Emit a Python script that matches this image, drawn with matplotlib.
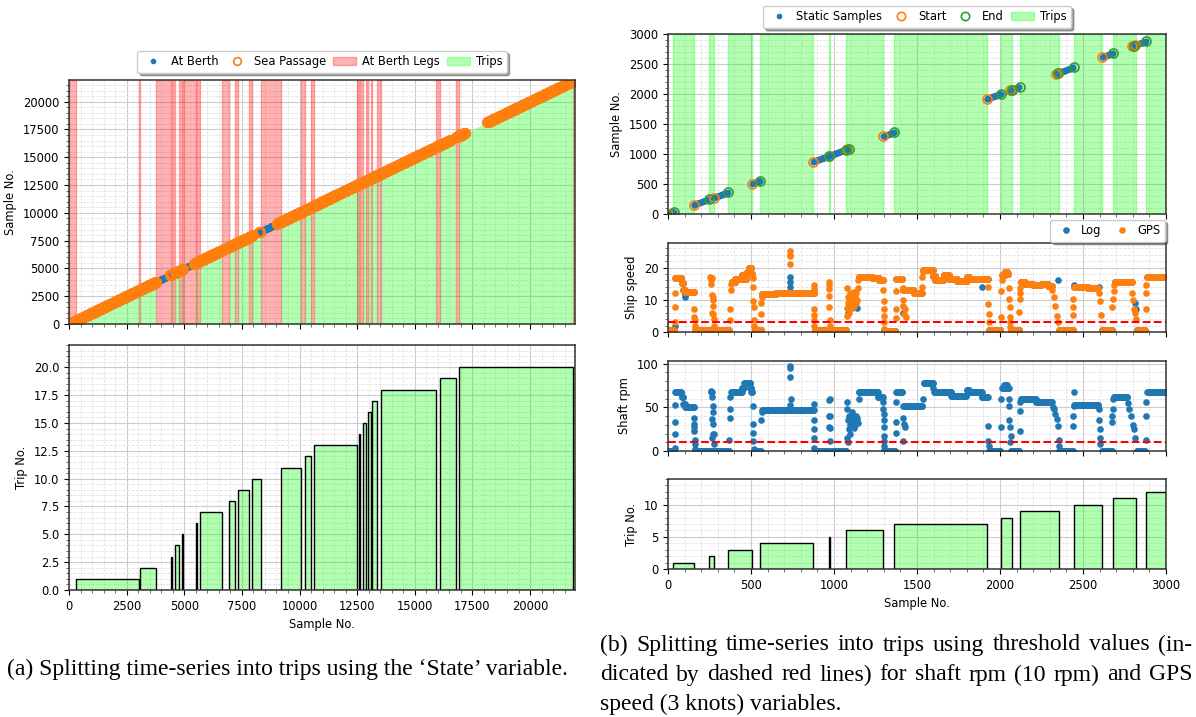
import numpy as np
import matplotlib.pyplot as plt
from matplotlib.lines import Line2D
from matplotlib.patches import Patch
from matplotlib.ticker import AutoMinorLocator

plt.rcParams['font.size'] = 8.3

# ---------------- (a) split with the 'State' variable ----------------
n_a = 21950
trip_a_start = [300, 3077, 4420, 4600, 4900, 5490, 5690, 6960, 7330, 7920,
                9200, 10220, 10640, 12570, 12740, 12970, 13150, 13530, 16080, 16900]
trip_a_end = [3040, 3755, 4480, 4780, 4960, 5560, 6630, 7210, 7790, 8320,
              10075, 10500, 12510, 12620, 12890, 13085, 13380, 15910, 16770, 21870]
berth_seg = [(0, 20), (3770, 4380), (4960, 5420), (6740, 6840), (7880, 7920),
             (8080, 8220), (8300, 9040), (12720, 12780), (15820, 15880), (16640, 16700)]
sea_seg = [(230, 3770), (4380, 4460), (4600, 4760), (4840, 4960), (5420, 6740),
           (6840, 7880), (7960, 7990), (8250, 8290), (9040, 12720), (12780, 15820),
           (15900, 16560), (16790, 17200), (18150, 21950)]

# ---------------- (b) split with thresholds ----------------
n_b = 3000
trip_b_start = [32, 248, 362, 556, 968, 1073, 1362, 2009, 2118, 2444, 2683, 2881]
trip_b_end = [159, 278, 508, 875, 973, 1298, 1920, 2070, 2355, 2617, 2820, 3000]
static_start = [0, 155, 275, 508, 875, 970, 1080, 1296, 1920, 2060, 2072, 2338, 2352, 2617, 2795, 2815]
static_end = [36, 248, 360, 556, 968, 1073, 1090, 1362, 2007, 2070, 2118, 2350, 2444, 2681, 2805, 2879]

speed_thr = 3
rpm_thr = 10

# plateaus (start, end, level)
speed_seg = [
    (0, 40, 0.5), (44, 82, 16.7), (82, 92, 15.2), (92, 102, 13), (102, 160, 12.3),
    (164, 252, 0.5), (280, 368, 0.5), (384, 405, 15.5), (405, 445, 16.5),
    (445, 458, 17.8), (458, 470, 16.3), (470, 485, 18.2), (485, 502, 19.8),
    (502, 510, 18), (522, 562, 0.5), (566, 650, 11.7), (650, 780, 12),
    (780, 882, 12.2), (886, 966, 0.5), (984, 1075, 0.5), (1148, 1230, 17.2),
    (1230, 1270, 16.8), (1270, 1298, 16), (1304, 1370, 0.3), (1374, 1412, 16.5),
    (1418, 1480, 13), (1480, 1528, 12), (1538, 1595, 19.3), (1595, 1610, 17.5),
    (1610, 1660, 16.2), (1660, 1690, 17.6), (1690, 1740, 16.3), (1740, 1800, 15.8),
    (1800, 1815, 17), (1815, 1928, 16.5), (1934, 2003, 0.5), (2013, 2030, 17.8),
    (2030, 2045, 18.6), (2045, 2053, 18), (2064, 2115, 0.5), (2125, 2150, 15.6),
    (2150, 2200, 14.8), (2200, 2250, 14.5), (2250, 2290, 15), (2290, 2312, 14.2),
    (2356, 2440, 0.5), (2446, 2530, 14), (2530, 2592, 13.5), (2615, 2675, 0.5),
    (2690, 2795, 15.5), (2825, 2875, 0.5), (2886, 3000, 17.2),
]
gps_pts = [
    (40, 3.2), (42, 7.7), (42, 12), (158, 7), (159, 4.7), (160, 3.7), (161, 2),
    (254, 17.2), (258, 16), (262, 15), (265, 16.8), (268, 11.5), (270, 10), (272, 8),
    (273, 5.5), (275, 4), (276, 2), (270, 11), (266, 6),
    (372, 7), (373, 3.7), (378, 13), (381, 15),
    (511, 16.7), (514, 14), (515, 9.7), (517, 7.7), (519, 3.7), (521, 2),
    (560, 5.7), (563, 9), (565, 11), (733, 25), (734, 24), (735, 23.5), (736, 21),
    (879, 14.7), (879, 13.2), (880, 7.2), (880, 5.2), (881, 3.7), (881, 2),
    (968, 15.4), (969, 14.7), (970, 13.2), (971, 11.2), (972, 7.7), (973, 3.7), (974, 2),
    (1076, 5), (1078, 7.5), (1080, 13.7), (1082, 9), (1086, 11), (1088, 6), (1090, 8),
    (1094, 10), (1098, 12), (1100, 10.5), (1102, 9), (1106, 11.5), (1110, 7.5),
    (1114, 9.5), (1116, 8.5), (1118, 10.5), (1120, 12.5), (1122, 8), (1126, 11),
    (1130, 9), (1134, 12), (1138, 10), (1142, 13.5), (1146, 16),
    (1298, 13), (1299, 9.5), (1300, 7), (1301, 5), (1302, 3), (1303, 1),
    (1372, 12.7), (1372, 7.2), (1373, 4.2),
    (1413, 13.5), (1415, 10), (1414, 8.2), (1426, 7.2), (1432, 4.7), (1420, 5.5),
    (1529, 14), (1532, 17), (1535, 18.5),
    (1929, 14), (1930, 8.7), (1931, 5.7), (1932, 3),
    (2004, 4.7), (2008, 12.7), (2011, 16),
    (2055, 13.7), (2057, 10.2), (2059, 7.7), (2061, 4.7), (2062, 3.2), (2063, 1.7),
    (2117, 6.2), (2120, 10.2), (2121, 12.2), (2123, 13.7),
    (2315, 13), (2325, 11), (2333, 8), (2342, 5), (2350, 3),
    (2440, 10.2), (2441, 7.7), (2442, 5.2),
    (2597, 12.2), (2603, 9.7), (2608, 5.2),
    (2677, 7.7), (2681, 10.2), (2684, 12.7), (2686, 14.7),
    (2798, 12), (2803, 10), (2808, 7), (2813, 6), (2818, 4),
    (2877, 7.2), (2880, 12.2), (2882, 14.7),
]
log_pts = [
    (40, 2), (100, 11), (105, 11.5), (735, 17), (736, 15.5), (737, 14), (1890, 14),
    (2352, 16), (2443, 14.5), (2598, 14), (1085, 6), (1100, 8), (1140, 7.5),
    (1416, 6), (2815, 9), (2820, 7),
]

rpm_seg = [
    (0, 40, 0.5), (44, 82, 67), (82, 92, 62), (92, 104, 54), (104, 158, 50),
    (164, 368, 0.5), (380, 445, 67), (445, 458, 72), (458, 495, 78), (495, 503, 72),
    (503, 510, 67), (518, 562, 0.5), (567, 881, 46.5), (886, 966, 0.5),
    (984, 1075, 0.5), (1150, 1265, 67), (1265, 1297, 62), (1304, 1370, 0.5),
    (1376, 1412, 67), (1416, 1535, 52), (1540, 1598, 78), (1603, 1705, 67),
    (1705, 1800, 63), (1800, 1812, 70), (1812, 1890, 67), (1890, 1928, 62),
    (1934, 2003, 0.5), (2013, 2025, 72), (2025, 2040, 75), (2040, 2053, 72),
    (2064, 2115, 0.5), (2124, 2214, 60), (2214, 2314, 56), (2356, 2440, 0.5),
    (2446, 2595, 53), (2615, 2675, 0.5), (2686, 2768, 62), (2825, 2875, 0.5),
    (2886, 3000, 67),
]
rpm_pts = [
    (42, 4), (42, 19), (42, 33), (43, 53),
    (156, 38), (157, 31), (158, 27), (159, 23), (160, 13), (161, 8), (162, 2),
    (258, 68), (262, 69), (264, 67), (266, 62), (270, 52), (272, 45), (268, 37),
    (274, 31), (272, 20), (276, 19), (266, 15), (278, 8),
    (370, 13), (373, 38), (374, 48), (376, 62),
    (510, 52), (511, 31), (512, 21), (514, 12), (516, 2), (562, 35), (565, 45),
    (735, 97), (736, 95), (737, 85), (738, 60), (737, 53),
    (880, 54), (880, 35), (881, 25), (881, 15), (882, 4),
    (969, 58), (970, 40), (971, 27), (976, 60), (977, 40), (977, 26), (978, 12),
    (1076, 15), (1078, 56), (1080, 48), (1082, 35), (1085, 10), (1088, 25), (1092, 40),
    (1095, 20), (1096, 30), (1100, 35), (1104, 28), (1108, 42), (1110, 45), (1112, 33),
    (1116, 38), (1120, 26), (1124, 36), (1128, 30), (1132, 40), (1136, 34),
    (1140, 38), (1144, 32), (1148, 60),
    (1298, 56), (1298, 48), (1299, 42), (1300, 35), (1300, 27), (1301, 17),
    (1302, 12), (1303, 6), (1304, 1),
    (1372, 56), (1372, 33), (1373, 21),
    (1413, 38), (1420, 31), (1428, 27), (1414, 12), (1536, 60), (1599, 72),
    (1929, 29), (1928, 12), (1932, 6), (2005, 27), (2006, 60),
    (2054, 60), (2056, 52), (2057, 35), (2062, 27), (2066, 17), (2062, 10),
    (2118, 23), (2122, 46), (2123, 56),
    (2320, 50), (2324, 48), (2334, 42), (2342, 37), (2348, 29), (2354, 13), (2355, 6),
    (2440, 29), (2441, 40), (2443, 52), (2444, 67),
    (2597, 48), (2599, 35), (2601, 25), (2603, 15), (2605, 8),
    (2676, 33), (2677, 40), (2680, 48), (2682, 60),
    (2770, 55), (2780, 48), (2790, 40), (2800, 30), (2805, 25), (2812, 15),
    (2877, 13), (2878, 40), (2882, 56),
]

caption_a = "(a) Splitting time-series into trips using the \u2018State\u2019 variable."
caption_b = ["(b) Splitting time-series into trips using threshold values (in-",
             "dicated by dashed red lines) for shaft rpm (10 rpm) and GPS",
             "speed (3 knots) variables."]

BLUE, ORANGE, GREEN = "tab:blue", "tab:orange", "tab:green"
TRIP_FC = (0.0, 1.0, 0.0, 0.3)
W, H = 1196, 717


def expand(segs, step=3):
    xs, ys = [], []
    for s, e, v in segs:
        x = np.arange(s, e + 1, step)
        xs.append(x)
        ys.append(np.full(len(x), v, dtype=float))
    return np.concatenate(xs), np.concatenate(ys)


def diag(segs, step):
    return np.concatenate([np.arange(s, e + 1, step) for s, e in segs])


def style(ax):
    ax.minorticks_on()
    ax.xaxis.set_minor_locator(AutoMinorLocator(5))
    ax.yaxis.set_minor_locator(AutoMinorLocator(5))
    ax.grid(which="major", color="#cccccc", lw=0.8)
    ax.grid(which="minor", color="#e2e2e2", lw=0.6, ls="--")
    ax.set_axisbelow(True)
    for sp in ax.spines.values():
        sp.set_color("#333333")
        sp.set_linewidth(1.1)
    ax.tick_params(which="minor", length=2, color="#555555")
    ax.tick_params(which="major", length=3.5)


def px_axes(fig, l, t, r, b, **kw):
    return fig.add_axes([l / W, 1 - b / H, (r - l) / W, (b - t) / H], **kw)


fig = plt.figure(figsize=(W / 100, H / 100), dpi=100)

# ---------- (a) top ----------
ax1 = px_axes(fig, 69, 80, 575, 324)
style(ax1)
legs = [(0, trip_a_start[0])] + list(zip(trip_a_end[:-1], trip_a_start[1:])) + [(trip_a_end[-1], n_a)]
for s, e in legs:
    ax1.axvspan(s, e, color="red", alpha=0.3, lw=1)
for s, e in zip(trip_a_start, trip_a_end):
    ax1.fill_between([s, e], [0, 0], [s, e], color="lime", alpha=0.3, lw=0)
xb = diag(berth_seg, 20)
xs = diag(sea_seg, 20)
ax1.plot(xb, xb, ".", color=BLUE, ms=8, ls="none")
ax1.plot(xs, xs, "o", mfc="none", mec=ORANGE, ms=6.5, mew=1.5, ls="none")
ax1.set_xlim(0, n_a)
ax1.set_ylim(0, n_a)
ax1.set_ylabel("Sample No.")
ax1.tick_params(labelbottom=False)
h1 = [Line2D([], [], marker=".", color=BLUE, ls="none", ms=6),
      Line2D([], [], marker="o", mfc="none", mec=ORANGE, ls="none", ms=5.5, mew=1.2),
      Patch(facecolor="red", edgecolor="red", alpha=0.3),
      Patch(facecolor="lime", edgecolor="lime", alpha=0.3)]
ax1.legend(h1, ["At Berth", "Sea Passage", "At Berth Legs", "Trips"], ncol=4,
           loc="lower center", bbox_to_anchor=(0.5, 1.02), shadow=True, fancybox=True,
           borderaxespad=0.2, columnspacing=0.6, handletextpad=0.5, framealpha=1)

# ---------- (a) bottom ----------
ax2 = px_axes(fig, 69, 345, 575, 590, sharex=ax1)
style(ax2)
trip_no_a = np.arange(1, len(trip_a_start) + 1)
ax2.bar(trip_a_start, trip_no_a, width=np.array(trip_a_end) - np.array(trip_a_start),
        align="edge", facecolor=TRIP_FC, edgecolor="black", lw=1)
ax2.set_ylim(0, 22)
ax2.set_xlim(0, n_a)
ax2.set_ylabel("Trip No.")
ax2.set_xlabel("Sample No.")

# ---------- (b) top ----------
ax3 = px_axes(fig, 668, 34, 1166, 214)
style(ax3)
for s, e in zip(trip_b_start, trip_b_end):
    ax3.axvspan(s, e, color="lime", alpha=0.3, lw=1)
xst = diag(list(zip(static_start, static_end)), 3)
ax3.plot(xst, xst, ".", color=BLUE, ms=6.5, ls="none")
ax3.plot(static_start, static_start, "o", mfc="none", mec=ORANGE, ms=6.5, mew=1.2, ls="none")
ax3.plot(static_end, static_end, "o", mfc="none", mec=GREEN, ms=6.5, mew=1.2, ls="none")
ax3.set_xlim(0, n_b)
ax3.set_ylim(0, n_b)
ax3.set_ylabel("Sample No.")
ax3.tick_params(labelbottom=False)
h3 = [Line2D([], [], marker=".", color=BLUE, ls="none", ms=6),
      Line2D([], [], marker="o", mfc="none", mec=ORANGE, ls="none", ms=6, mew=1.2),
      Line2D([], [], marker="o", mfc="none", mec=GREEN, ls="none", ms=6, mew=1.2),
      Patch(facecolor="lime", edgecolor="lime", alpha=0.3)]
ax3.legend(h3, ["Static Samples", "Start", "End", "Trips"], ncol=4,
           loc="lower center", bbox_to_anchor=(0.5, 1.02), shadow=True, fancybox=True,
           borderaxespad=0.2, columnspacing=0.6, handletextpad=0.5, framealpha=1)

# ---------- (b) ship speed ----------
ax4 = px_axes(fig, 668, 243, 1166, 332, sharex=ax3)
style(ax4)
sx, sy = expand(speed_seg)
lx = np.concatenate([sx, [p[0] for p in log_pts]])
ly = np.concatenate([sy, [p[1] for p in log_pts]])
gx = np.concatenate([sx, [p[0] for p in gps_pts]])
gy = np.concatenate([sy, [p[1] for p in gps_pts]])
ax4.plot(lx, ly, ".", color=BLUE, ms=7.5, ls="none", label="Log")
ax4.plot(gx, gy, ".", color=ORANGE, ms=7.5, ls="none", label="GPS")
ax4.axhline(speed_thr, color="red", ls="--", lw=1.5)
ax4.set_ylim(0, 27.6)
ax4.set_yticks([0, 10, 20])
ax4.set_ylabel("Ship speed")
ax4.tick_params(labelbottom=False)
ax4.legend(ncol=2, loc="lower right", bbox_to_anchor=(1.0, 1.0), shadow=True,
           fancybox=True, borderaxespad=0.1, columnspacing=0.8, handletextpad=0.3,
           framealpha=1)

# ---------- (b) shaft rpm ----------
ax5 = px_axes(fig, 668, 361, 1166, 451, sharex=ax3)
style(ax5)
rx, ry = expand(rpm_seg)
rx = np.concatenate([rx, [p[0] for p in rpm_pts]])
ry = np.concatenate([ry, [p[1] for p in rpm_pts]])
ax5.plot(rx, ry, ".", color=BLUE, ms=7.5, ls="none")
ax5.axhline(rpm_thr, color="red", ls="--", lw=1.5)
ax5.set_ylim(0, 103)
ax5.set_yticks([0, 50, 100])
ax5.set_ylabel("Shaft rpm")
ax5.tick_params(labelbottom=False)

# ---------- (b) trip no ----------
ax6 = px_axes(fig, 668, 479, 1166, 569, sharex=ax3)
style(ax6)
trip_no_b = np.arange(1, len(trip_b_start) + 1)
ax6.bar(trip_b_start, trip_no_b, width=np.array(trip_b_end) - np.array(trip_b_start),
        align="edge", facecolor=TRIP_FC, edgecolor="black", lw=1)
ax6.set_ylim(0, 14)
ax6.set_yticks([0, 5, 10])
ax6.set_xlim(0, n_b)
ax6.set_ylabel("Trip No.")
ax6.set_xlabel("Sample No.")

# ---------- captions ----------
cap_kw = dict(family="Liberation Serif", fontsize=17, va="center")
fig.text(7 / W, 1 - 669 / H, caption_a, ha="left", **cap_kw)

r = fig.canvas.get_renderer()
line_y = [645, 675, 704]
x0, x1 = 600, 1192
for i, (txt, y) in enumerate(zip(caption_b, line_y)):
    if i == len(caption_b) - 1:
        fig.text(x0 / W, 1 - y / H, txt, ha="left", **cap_kw)
        continue
    words = txt.split(" ")
    arts = [fig.text(0, 1 - y / H, w, ha="left", **cap_kw) for w in words]
    widths = [a.get_window_extent(r).width for a in arts]
    gap = (x1 - x0 - sum(widths)) / (len(words) - 1)
    x = x0
    for a, w in zip(arts, widths):
        a.set_x(x / W)
        x += w + gap

fig.savefig("out.png", dpi=100)
